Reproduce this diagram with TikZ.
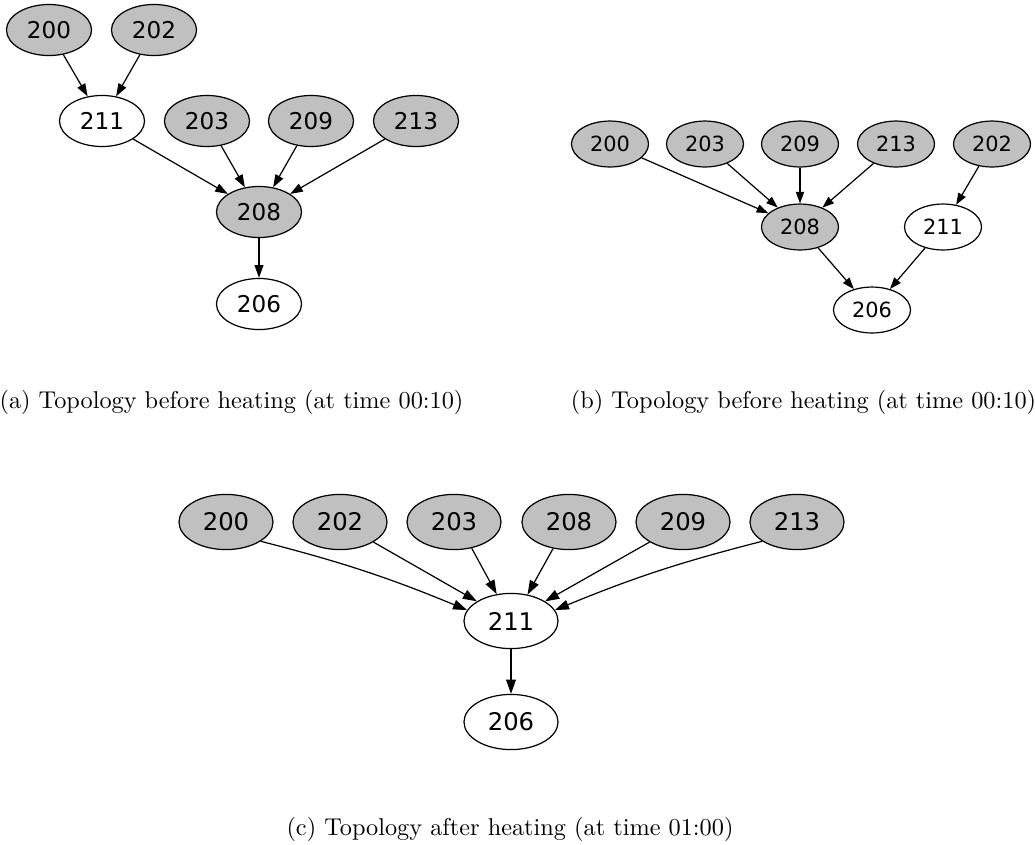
\documentclass[tikz,border=0pt]{standalone}
\usepackage{fontspec}
\newfontfamily\dejavu{DejaVu Sans}
\usetikzlibrary{shapes.geometric,arrows.meta}
\definecolor{nodegray}{HTML}{C0C0C0}

\begin{document}
\begin{tikzpicture}[x = 0.4115pt, y = -0.4115pt,
	vert/.style = {ellipse, draw, line width = 0.5pt, inner sep = 0pt},
	vertA/.style = {vert, minimum width = 35pt, minimum height = 21pt, font = \dejavu\fontsize{9.5}{11}\selectfont},
	vertB/.style = {vert, minimum width = 31.7pt, minimum height = 18.9pt, font = \dejavu\fontsize{8.6}{10}\selectfont},
	vertC/.style = {vert, minimum width = 38.7pt, minimum height = 22.7pt, font = \dejavu\fontsize{10}{12}\selectfont},
	grey/.style = {fill = nodegray},
	edgeA/.style = {line width = 0.5pt, -{Triangle[length = 5.2pt, width = 3.6pt]}},
	edgeB/.style = {line width = 0.5pt, -{Triangle[length = 4.8pt, width = 3.4pt]}},
	edgeC/.style = {line width = 0.5pt, -{Triangle[length = 5.8pt, width = 4pt]}},
	subcap/.style = {anchor = base, inner sep = 0pt}]
	\useasboundingbox (0,0) rectangle (1035,844);
	% (a)
	\node [vertA, grey](a200) at (49,30) {200};
	\node [vertA, grey](a202) at (154,30) {202};
	\node [vertA](a211) at (102,121) {211};
	\node [vertA, grey](a203) at (207,121) {203};
	\node [vertA, grey](a209) at (311,121) {209};
	\node [vertA, grey](a213) at (416,121) {213};
	\node [vertA, grey](a208) at (259,212) {208};
	\node [vertA](a206) at (259,304) {206};
	\draw [edgeA] (a200) -- (a211);
	\draw [edgeA] (a202) -- (a211);
	\draw [edgeA] (a211) -- (a208);
	\draw [edgeA] (a203) -- (a208);
	\draw [edgeA] (a209) -- (a208);
	\draw [edgeA] (a213) -- (a208);
	\draw [edgeA] (a208) -- (a206);
	\node [subcap](capA) at (231.5,408) {(a) Topology before heating (at time 00:10)};
	% (b)
	\node [vertB, grey](b200) at (610,144) {200};
	\node [vertB, grey](b203) at (705,144) {203};
	\node [vertB, grey](b209) at (800,144) {209};
	\node [vertB, grey](b213) at (896,144) {213};
	\node [vertB, grey](b202) at (992,144) {202};
	\node [vertB, grey](b208) at (800,227) {208};
	\node [vertB](b211) at (943,227) {211};
	\node [vertB](b206) at (872,310) {206};
	\draw [edgeB] (b200) -- (b208);
	\draw [edgeB] (b203) -- (b208);
	\draw [edgeB] (b209) -- (b208);
	\draw [edgeB] (b213) -- (b208);
	\draw [edgeB] (b202) -- (b211);
	\draw [edgeB] (b208) -- (b206);
	\draw [edgeB] (b211) -- (b206);
	\node [subcap](capB) at (803.5,408) {(b) Topology before heating (at time 00:10)};
	% (c)
	\node [vertC, grey](c200) at (226,522) {200};
	\node [vertC, grey](c202) at (340,522) {202};
	\node [vertC, grey](c203) at (454,522) {203};
	\node [vertC, grey](c208) at (569,522) {208};
	\node [vertC, grey](c209) at (683,522) {209};
	\node [vertC, grey](c213) at (797,522) {213};
	\node [vertC](c211) at (511,621) {211};
	\node [vertC](c206) at (511,722) {206};
	\draw [edgeC] (c200.-29) to [bend left = 4] (c211.166);
	\draw [edgeC] (c202.-31) -- (c211.150);
	\draw [edgeC] (c203.-56) -- (c211.118);
	\draw [edgeC] (c208.-121) -- (c211.58);
	\draw [edgeC] (c209.-149) -- (c211.30);
	\draw [edgeC] (c213.-151) to [bend right = 4] (c211.14);
	\draw [edgeC] (c211) -- (c206);
	\node [subcap](capC) at (510,835) {(c) Topology after heating (at time 01:00)};
\end{tikzpicture}
\end{document}
